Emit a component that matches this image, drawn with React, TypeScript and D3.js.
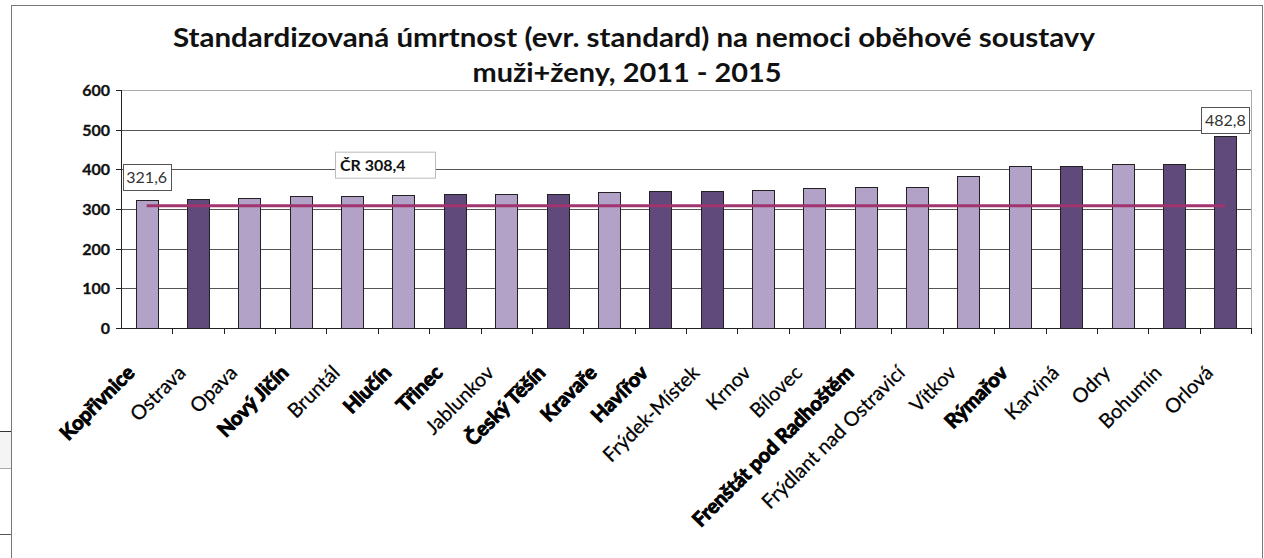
import React from 'react';
import * as d3 from 'd3';

// data
const towns = [
  'Kopřivnice', 'Ostrava', 'Opava', 'Nový Jičín', 'Bruntál', 'Hlučín', 'Třinec',
  'Jablunkov', 'Český Těšín', 'Kravaře', 'Havířov', 'Frýdek-Místek', 'Krnov',
  'Bílovec', 'Frenštát pod Radhoštěm', 'Frýdlant nad Ostravicí', 'Vítkov',
  'Rýmařov', 'Karviná', 'Odry', 'Bohumín', 'Orlová',
];
const rates = [
  321.6, 325.2, 327.7, 332.5, 332.7, 335.0, 338.5, 337.8, 337.8, 342.8, 345.3,
  345.3, 347.9, 352.0, 354.6, 354.7, 384.0, 407.5, 407.3, 412.6, 412.4, 482.8,
];
// towns with dark bars
const darkTowns = ['Ostrava', 'Třinec', 'Český Těšín', 'Havířov', 'Frýdek-Místek', 'Karviná', 'Bohumín', 'Orlová'];
// towns with bold axis label
const boldTowns = ['Kopřivnice', 'Nový Jičín', 'Hlučín', 'Třinec', 'Český Těšín', 'Kravaře', 'Havířov', 'Frenštát pod Radhoštěm', 'Rýmařov'];
const yTicks = [0, 100, 200, 300, 400, 500, 600];
const czValue = 308.4;
const czLabel = 'ČR 308,4';
const titleLines = [
  'Standardizovaná úmrtnost (evr. standard) na nemoci oběhové soustavy',
  'muži+ženy, 2011 - 2015',
];
// data labels shown on bars: [town, text]
const valueLabels = [
  ['Kopřivnice', '321,6'],
  ['Orlová', '482,8'],
];

const W = 1264;
const H = 558;
const plot = { left: 121, right: 1251, top: 90, bottom: 328 };
const FONT = 'Lato, "Open Sans", sans-serif';
// title line layout measured on the picture
const titleLayout = [
  { cx: 634, y: 47, w: 922 },
  { cx: 627, y: 82, w: 309 },
];

const App = () => {
  const x = d3
    .scaleBand()
    .domain(towns)
    .range([plot.left, plot.right])
    .paddingInner(0.57)
    .paddingOuter(0.285);
  const y = d3.scaleLinear().domain([0, 600]).range([plot.bottom, plot.top]);
  const step = x.step();
  const cx = (t) => x(t) + x.bandwidth() / 2;

  const lineY = y(czValue);

  return (
    <svg
      width={W}
      height={H}
      style={{ position: 'absolute', left: 0, top: 0, background: '#fff' }}
      fontFamily={FONT}
    >
      {/* spreadsheet bits left of the chart */}
      <rect x={0} y={431} width={11} height={37} fill="#f4f4f4" />
      <line x1={0} x2={11} y1={431.5} y2={431.5} stroke="#333" />
      <line x1={0} x2={11} y1={468.5} y2={468.5} stroke="#aaa" />
      <line x1={0} x2={11} y1={534.5} y2={534.5} stroke="#555" />

      {/* chart border */}
      <rect x={11.5} y={5.5} width={1251} height={600} fill="#fff" stroke="#777" />

      {/* title */}
      {titleLines.map((t, i) => (
        <text
          key={i}
          x={titleLayout[i].cx}
          y={titleLayout[i].y}
          textAnchor="middle"
          fontSize={26}
          fontWeight="bold"
          fill="#111"
          textLength={titleLayout[i].w}
          lengthAdjust="spacingAndGlyphs"
        >
          {t}
        </text>
      ))}

      {/* gridlines */}
      {yTicks.map((v) => (
        <line
          key={v}
          x1={plot.left}
          x2={plot.right}
          y1={Math.round(y(v)) + 0.5}
          y2={Math.round(y(v)) + 0.5}
          stroke={v === 600 ? '#aaa' : v === 0 ? '#222' : '#555'}
        />
      ))}
      <line x1={plot.right + 0.5} x2={plot.right + 0.5} y1={plot.top} y2={plot.bottom} stroke="#aaa" />

      {/* y axis */}
      <line x1={plot.left + 0.5} x2={plot.left + 0.5} y1={plot.top} y2={plot.bottom + 0.5} stroke="#222" />
      {yTicks.map((v) => (
        <g key={v}>
          <line x1={plot.left - 5} x2={plot.left} y1={Math.round(y(v)) + 0.5} y2={Math.round(y(v)) + 0.5} stroke="#222" />
          <text
            x={plot.left - 11}
            y={y(v) + 6}
            textAnchor="end"
            fontSize={16}
            fontWeight="bold"
            fill="#111"
            stroke="#111"
            strokeWidth={0.3}
          >
            {v}
          </text>
        </g>
      ))}

      {/* category ticks */}
      {towns.map((t, i) => (
        <line
          key={t}
          x1={Math.round(plot.left + (i + 1) * step) + 0.5}
          x2={Math.round(plot.left + (i + 1) * step) + 0.5}
          y1={plot.bottom}
          y2={plot.bottom + 6}
          stroke="#222"
        />
      ))}

      {/* bars */}
      {towns.map((t, i) => (
        <rect
          key={t}
          x={Math.round(x(t)) + 0.5}
          y={Math.round(y(rates[i])) + 0.5}
          width={Math.round(x.bandwidth())}
          height={Math.round(plot.bottom - y(rates[i]))}
          fill={darkTowns.includes(t) ? '#604A7B' : '#B3A2C7'}
          stroke="#222"
          strokeWidth={1}
        />
      ))}

      {/* ČR average line */}
      <line
        x1={cx(towns[0])}
        x2={cx(towns[towns.length - 1])}
        y1={lineY}
        y2={lineY}
        stroke="#A0346E"
        strokeWidth={3}
      />
      <g>
        <rect x={335.5} y={lineY - 53.5} width={100} height={26} fill="#fff" stroke="#bbb" />
        <text x={340} y={lineY - 35} fontSize={16} fontWeight="bold" fill="#111">
          {czLabel}
        </text>
      </g>

      {/* value labels */}
      {valueLabels.map(([t, txt], k) => {
        const v = rates[towns.indexOf(t)];
        const bottom = k === 0 ? y(v) - 10 : y(v) - 3;
        return (
          <g key={t}>
            <rect
              x={Math.round(cx(t) - 24) + 0.5}
              y={Math.round(bottom - 26) + 0.5}
              width={48}
              height={26}
              fill="#fff"
              stroke="#555"
            />
            <text x={cx(t)} y={bottom - 7} textAnchor="middle" fontSize={16} fill="#333">
              {txt}
            </text>
          </g>
        );
      })}

      {/* x labels */}
      {towns.map((t) => {
        const bold = boldTowns.includes(t);
        return (
          <text
            key={t}
            transform={`translate(${cx(t) - 11},${plot.bottom + 46}) rotate(-45)`}
            textAnchor="end"
            fontSize={20}
            fontWeight={bold ? 'bold' : 'normal'}
            stroke="#000"
            strokeWidth={bold ? 1 : 0.25}
            fill="#000"
          >
            {t}
          </text>
        );
      })}
    </svg>
  );
};

export default App;
